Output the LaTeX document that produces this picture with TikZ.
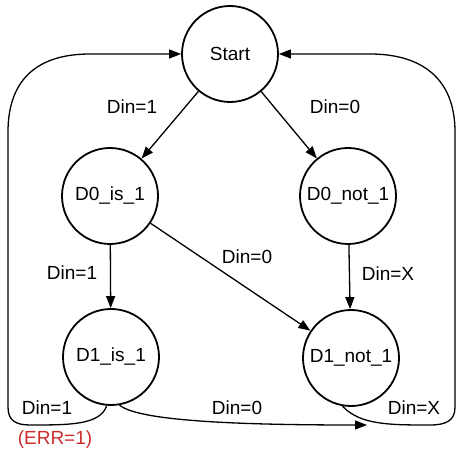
\documentclass[tikz,border=0pt]{standalone}
\usepackage{fontspec}
\setmainfont{Liberation Sans}
\usepackage{xcolor}
\usetikzlibrary{arrows.meta, positioning}
\definecolor{errred}{RGB}{205,45,45}

\begin{document}
\begin{tikzpicture}[
        x=1pt, y=1pt,
        state/.style={draw, circle, line width=1.8pt, minimum size=96pt, inner sep=0pt, font=\fontsize{19}{22}\selectfont},
        trans/.style={-{Triangle[length=12pt,width=9pt]}, line width=1.3pt},
        lbl/.style={font=\fontsize{19}{22}\selectfont}
    ]
        \useasboundingbox (0,0) rectangle (457,452);
        \node[state] (start) at (230,398) {Start};
        \node[state] (d0is) at (110,256) {D0\_is\_1};
        \node[state] (d0not) at (348,256) {D0\_not\_1};
        \node[state] (d1is) at (111,95) {D1\_is\_1};
        \node[state] (d1not) at (351,94) {D1\_not\_1};
        \coordinate (hit) at (367,27);

        \draw[trans] (start) -- (d0is);
        \draw[trans] (start) -- (d0not);
        \draw[trans] (d0is) -- (d1is);
        \draw[trans] (d0not) -- (d1not);
        \draw[trans] (d0is) -- (d1not);
        \draw[trans] (d1is.-80) .. controls (140,30) and (250,27) .. (hit);
        % loops back to start
        \draw[trans] (d1is.-95) .. controls (100,27) and (70,27) .. (30,27)
            .. controls (15,27) and (8,32) .. (8,45) -- (8,320)
            .. controls (8,375) and (40,398) .. (90,398) -- (start.west);
        \draw[trans] (d1not.-100) .. controls (360,27) and (390,27) .. (430,27)
            .. controls (447,27) and (455,32) .. (455,45) -- (455,320)
            .. controls (455,375) and (420,398) .. (370,398) -- (start.east);

        \node[lbl] (l1) at (132,345) {Din=1};
        \node[lbl] (l2) at (335,345) {Din=0};
        \node[lbl] (l3) at (72,179) {Din=1};
        \node[lbl] (l4) at (247,195) {Din=0};
        \node[lbl] (l5) at (388,178) {Din=X};
        \node[lbl] (l6) at (47,44) {Din=1};
        \node[lbl] (l7) at (237,44) {Din=0};
        \node[lbl] (l8) at (414,44) {Din=X};
        \node[lbl, text=errred] (err) at (55,12) {(ERR=1)};
    \end{tikzpicture}
\end{document}
